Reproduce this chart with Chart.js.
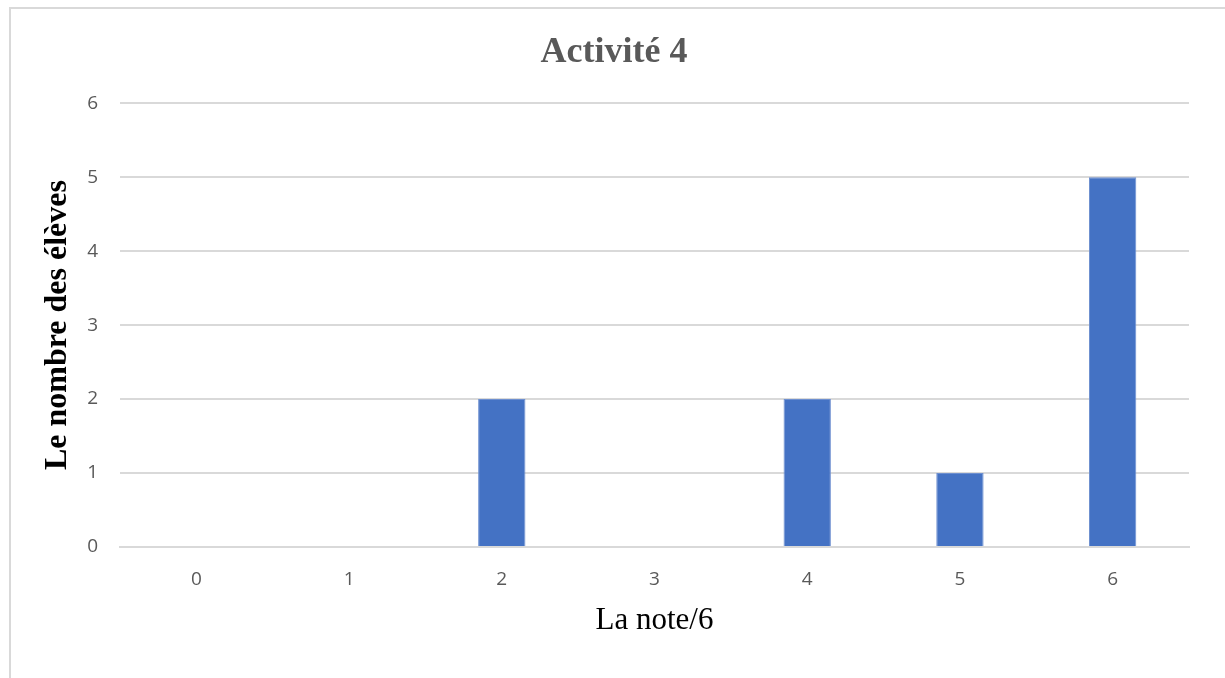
<!DOCTYPE html>
<html>
<head>
<meta charset="utf-8">
<script src="https://cdn.jsdelivr.net/npm/chart.js@4/dist/chart.umd.min.js"></script>
<style>
  html, body { margin:0; padding:0; background:#fff; }
  body { width:1225px; height:678px; position:relative; overflow:hidden; }
  #frame {
    position:absolute; left:9px; top:7px; width:1300px; height:800px;
    border-left:2px solid #d9d9d9; border-top:2px solid #d9d9d9;
  }
  #wrap { position:absolute; left:0; top:0; width:1225px; height:678px; }
</style>
</head>
<body>
<div id="frame"></div>
<div id="wrap"><canvas id="noteChart"></canvas></div>
<script>
/* ===============================
   DATA
================================ */
const notes = ["0", "1", "2", "3", "4", "5", "6"];
const eleves = [0, 0, 2, 0, 2, 1, 5];
const yTicks = [0, 1, 2, 3, 4, 5, 6];

const tickFont = { family: "'Open Sans', 'Liberation Sans', sans-serif", size: 19 };
const serif = "'Liberation Serif', 'DejaVu Serif', serif";

/* ===============================
   CHART
================================ */
new Chart(document.getElementById("noteChart"), {
  type: "bar",
  data: {
    labels: notes,
    datasets: [{
      label: "Le nombre des élèves",
      data: eleves,
      backgroundColor: "#4472c4",
      borderColor: "#6d8fd0",
      borderWidth: 1,
      barPercentage: 0.31,
      categoryPercentage: 1
    }]
  },
  options: {
    responsive: true,
    maintainAspectRatio: false,
    animation: false,
    layout: { padding: { left: 39, right: 36, top: 0, bottom: 0 } },
    plugins: {
      legend: { display: false },
      tooltip: { enabled: false },
      title: {
        display: true,
        text: "Activité 4",
        color: "#595959",
        font: { family: serif, size: 36, weight: "bold" },
        padding: { top: 31, bottom: 29 }
      }
    },
    scales: {
      x: {
        grid: { display: false, drawTicks: false },
        border: { display: true, color: "#d9d9d9", width: 2 },
        ticks: { color: "#595959", font: tickFont, padding: 21 },
        title: {
          display: true,
          text: "La note/6",
          color: "#000",
          font: { family: serif, size: 31 },
          padding: { top: 10, bottom: 39 }
        },
        afterFit: s => { s.height = 131; }
      },
      y: {
        min: 0,
        max: 6,
        afterBuildTicks: s => { s.ticks = yTicks.map(v => ({ value: v })); },
        grid: { color: "#d9d9d9", lineWidth: 2, drawTicks: false },
        border: { display: false },
        ticks: { color: "#595959", font: tickFont, padding: 22 },
        title: {
          display: true,
          text: "Le nombre des élèves",
          color: "#000",
          font: { family: serif, size: 32, weight: "bold" },
          padding: { top: 0, bottom: 0 }
        },
        afterFit: s => { s.width = 81; }
      }
    }
  }
});
</script>
</body>
</html>
